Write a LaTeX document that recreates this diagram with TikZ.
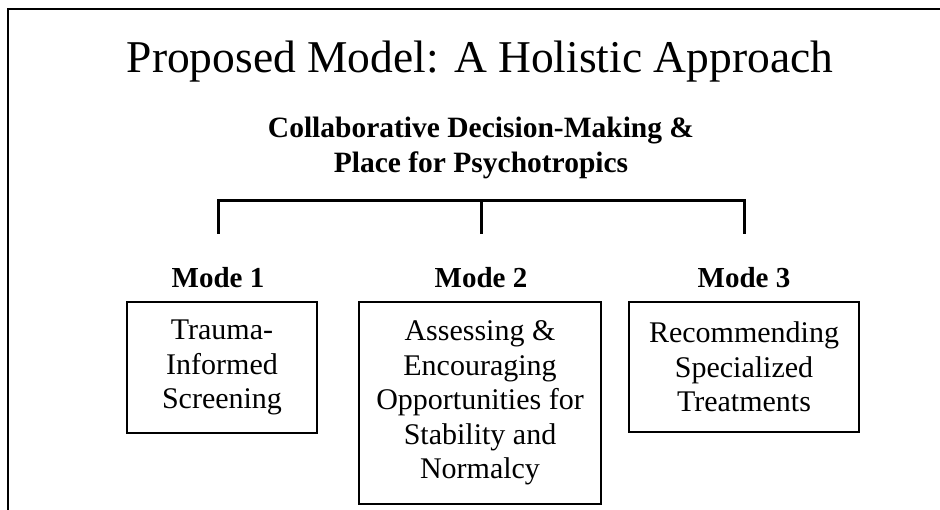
\documentclass[tikz,border=0pt]{standalone}
\usepackage{fontspec}
\setmainfont{Liberation Serif}
\usetikzlibrary{positioning}
\tikzset{
  label/.style={anchor=base,inner sep=0pt},
  mode/.style={label,font=\fontsize{29}{34}\selectfont\bfseries},
  box/.style={draw,line width=2pt,align=center,inner sep=0pt,
    font=\fontsize{30}{34.5}\selectfont},
  fork/.style={line width=3pt}
}

\begin{document}
\begin{tikzpicture}[x=1pt,y=-1pt]
  \useasboundingbox (0,0) rectangle (940,510);
  \draw[line width=2pt] (8,510) -- (8,9) -- (940,9);

  \path
  (480,73) node[label,font=\fontsize{45.5}{50}\selectfont] (title) {Proposed Model: A Holistic Approach}
  (481,138) node[label,font=\fontsize{29.5}{34}\selectfont\bfseries] (cdm) {Collaborative Decision-Making \&}
  (481,173) node[label,font=\fontsize{29.5}{34}\selectfont\bfseries] (psy) {Place for Psychotropics}
  (481,201) coordinate (top)
  (218,234) coordinate (t1)
  (481,234) coordinate (t2)
  (744,234) coordinate (t3)
  (218,288) node[mode] (m1) {Mode 1}
  (481,288) node[mode] (m2) {Mode 2}
  (744,288) node[mode] (m3) {Mode 3}
  (222,367.5) node[box,minimum width=190pt,minimum height=131pt] (b1) {Trauma-\\Informed\\Screening}
  (480,403) node[box,minimum width=242pt,minimum height=202pt] (b2) {Assessing \&\\Encouraging\\Opportunities for\\Stability and\\Normalcy}
  (744,367) node[box,minimum width=230pt,minimum height=130pt] (b3) {Recommending\\Specialized\\Treatments}
  ;

  \draw[fork] (t1) |- (top) -| (t3);
  \draw[fork] (top) -- (t2);
\end{tikzpicture}
\end{document}
